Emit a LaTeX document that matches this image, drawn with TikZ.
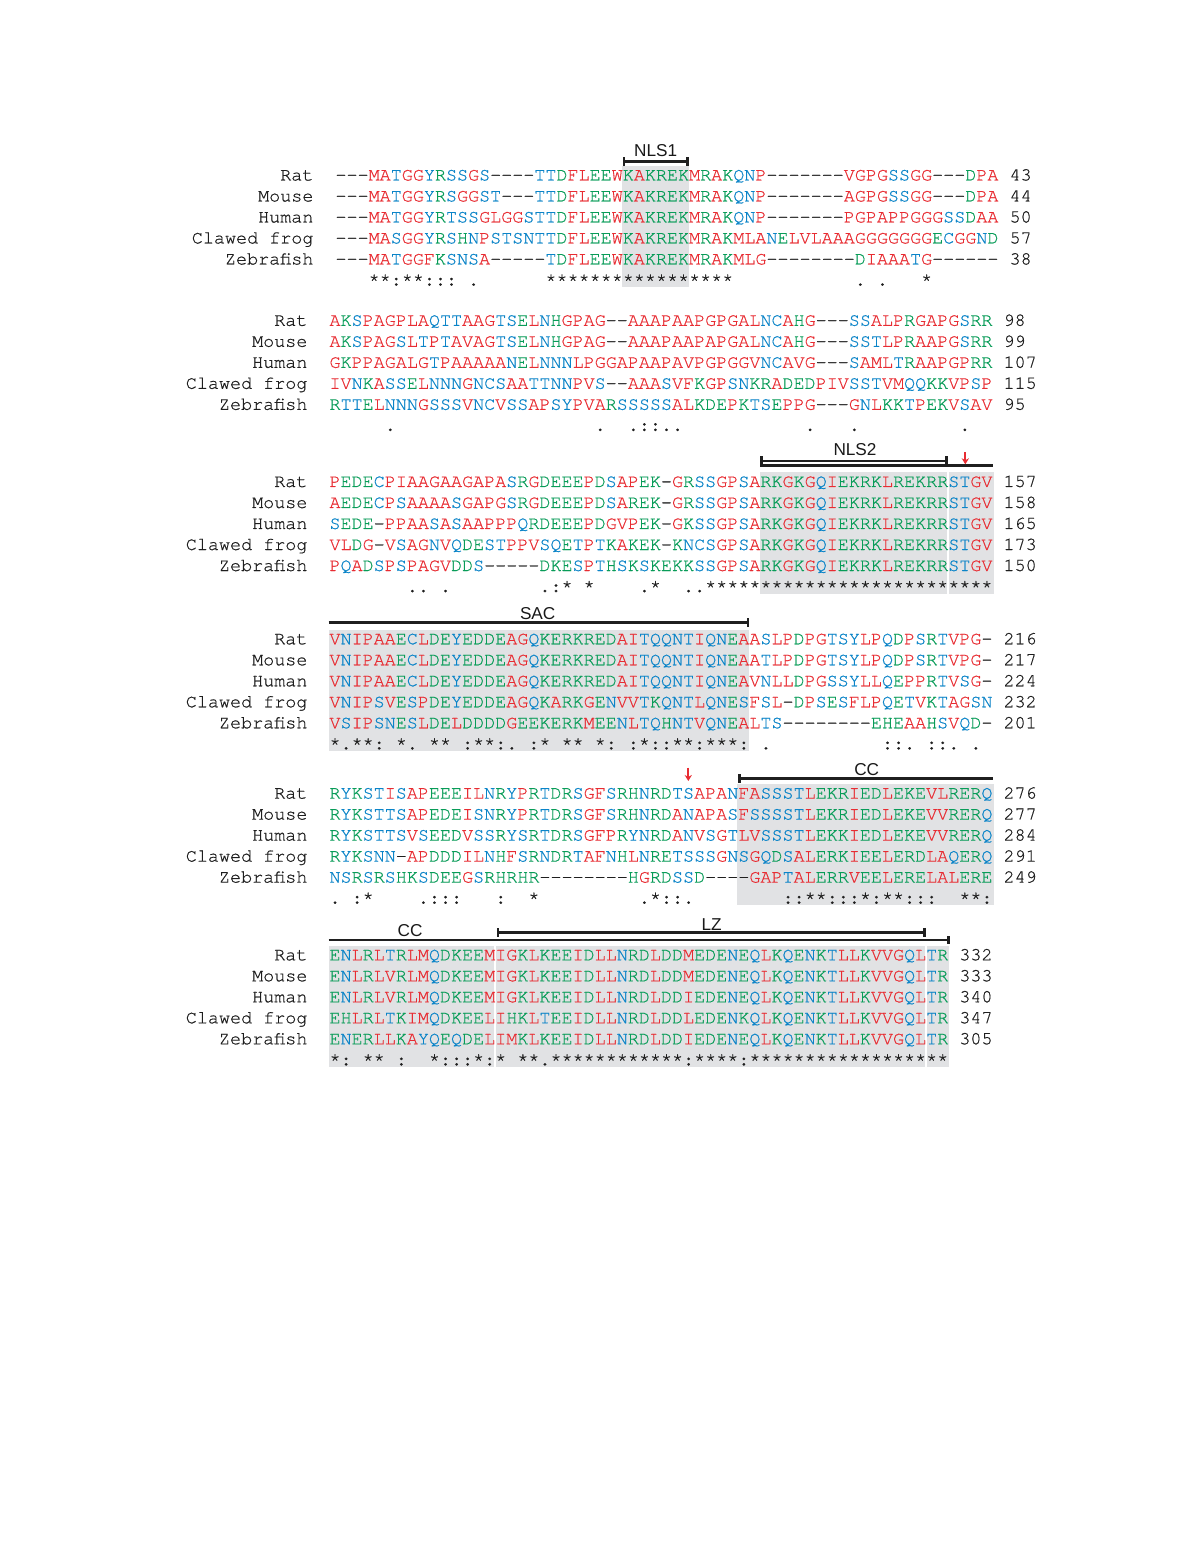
\documentclass[tikz,border=0pt]{standalone}
\usepackage{fontspec}
\setmonofont{TeX Gyre Cursor}[FakeBold=0.6,AutoFakeBold=0.6]
\newfontfamily\labfont{Liberation Sans}
\usetikzlibrary{arrows.meta}
\definecolor{sr}{RGB}{232,44,50}
\definecolor{sb}{RGB}{10,132,200}
\definecolor{sg}{RGB}{8,156,88}
\definecolor{shade}{RGB}{225,226,228}
\definecolor{ink}{RGB}{30,30,30}
\newcommand\setcol[2]{\expandafter\def\csname aac#1\endcsname{#2}}
\setcol A{sr}\setcol V{sr}\setcol F{sr}\setcol P{sr}\setcol M{sr}\setcol I{sr}\setcol L{sr}\setcol W{sr}\setcol G{sr}
\setcol S{sb}\setcol T{sb}\setcol Y{sb}\setcol Q{sb}\setcol N{sb}\setcol C{sb}
\setcol D{sg}\setcol E{sg}\setcol K{sg}\setcol R{sg}\setcol H{sg}
\newcommand\sq[1]{\sqloop#1\relax}
\def\sqloop#1{\ifx\relax#1\else\sqchar{#1}\expandafter\sqloop\fi}
\def\sqchar#1{\ifcsname aac#1\endcsname\textcolor{\csname aac#1\endcsname}{#1}\else\ifx_#1\hphantom{0}\else#1\fi\fi}
\newcommand\cw{11.05}
\newcommand\arow[7]{%
  \node[sqs,anchor=base east] (#1n) at ({#2-2*\cw},#3) {#4};%
  \node[sqs,anchor=base west] (#1s) at (#2,#3) {\sq{#5}};%
  \node[sqs,anchor=base west] (#1c) at ({#2+(#7+1)*\cw},#3) {#6};}
\begin{document}
\begin{tikzpicture}[x=0.5pt,y=-0.5pt,
  sqs/.style={font=\ttfamily\bfseries\fontsize{9.208pt}{11pt}\selectfont, inner sep=0pt, outer sep=0pt, text=ink},
  lab/.style={font=\labfont\fontsize{8.6pt}{10pt}\selectfont, inner sep=0pt, outer sep=0pt, text=black!90, anchor=base},
  br/.style={line width=1.25pt, draw=black!88},
  redarrow/.style={draw=sr, line width=1pt, -{Stealth[length=3pt,width=3.6pt]}},
  sh/.style={fill=shade}]
\useasboundingbox[fill=white] (0,0) rectangle (1192,1566);

% shading
\fill[sh] (621.8,165.7) rectangle (688.6,287.2);
\fill[sh] (759.5,472.2) rectangle (947.3,593.7);
\fill[sh] (949.3,472.2) rectangle (993.5,593.7);
\fill[sh] (328.5,629.5) rectangle (749.4,751);
\fill[sh] (737.4,783.8) rectangle (993.5,905.3);
\fill[sh] (328.5,945.5) rectangle (494.3,1067);
\fill[sh] (496.3,945.5) rectangle (925.2,1067);
\fill[sh] (927.2,945.5) rectangle (949.3,1067);

% block 1
\arow{a1}{335.5}{180.5}{Rat}{---MATGGYRSSGS----TTDFLEEWKAKREKMRAKQNP-------VGPGSSGG---DPA}{43}{60}
\arow{a2}{335.5}{201.5}{Mouse}{---MATGGYRSGGST---TTDFLEEWKAKREKMRAKQNP-------AGPGSSGG---DPA}{44}{60}
\arow{a3}{335.5}{222.5}{Human}{---MATGGYRTSSGLGGSTTDFLEEWKAKREKMRAKQNP-------PGPAPPGGGSSDAA}{50}{60}
\arow{a4}{335.5}{243.5}{Clawed frog}{---MASGGYRSHNPSTSNTTDFLEEWKAKREKMRAKMLANELVLAAAGGGGGGGECGGND}{57}{60}
\arow{a5}{335.5}{264.5}{Zebrafish}{---MATGGFKSNSA-----TDFLEEWKAKREKMRAKMLG--------DIAAATG------}{38}{60}
\node[sqs,anchor=base west] (a6) at (335.5,285.5) {\sq{___**:**:::_.______*****************___________._.___*}};

% block 2
\arow{b1}{329.5}{325.8}{Rat}{AKSPAGPLAQTTAAGTSELNHGPAG--AAAPAAPGPGALNCAHG---SSALPRGAPGSRR}{98}{60}
\arow{b2}{329.5}{346.8}{Mouse}{AKSPAGSLTPTAVAGTSELNHGPAG--AAAPAAPAPGALNCAHG---SSTLPRAAPGSRR}{99}{60}
\arow{b3}{329.5}{367.8}{Human}{GKPPAGALGTPAAAAANELNNNLPGGAPAAPAVPGPGGVNCAVG---SAMLTRAAPGPRR}{107}{60}
\arow{b4}{329.5}{388.8}{Clawed frog}{IVNKASSELNNNGNCSAATTNNPVS--AAASVFKGPSNKRADEDPIVSSTVMQQKKVPSP}{115}{60}
\arow{b5}{329.5}{409.8}{Zebrafish}{RTTELNNNGSSSVNCVSSAPSYPVARSSSSSALKDEPKTSEPPG---GNLKKTPEKVSAV}{95}{60}
\node[sqs,anchor=base west] (b6) at (329.5,430.8) {\sq{_____.__________________.__.::..___________.___._________.}};

% block 3
\arow{c1}{329.5}{487}{Rat}{PEDECPIAAGAAGAPASRGDEEEPDSAPEK-GRSSGPSARKGKGQIEKRKLREKRRSTGV}{157}{60}
\arow{c2}{329.5}{508}{Mouse}{AEDECPSAAAASGAPGSRGDEEEPDSAREK-GRSSGPSARKGKGQIEKRKLREKRRSTGV}{158}{60}
\arow{c3}{329.5}{529}{Human}{SEDE-PPAASASAAPPPQRDEEEPDGVPEK-GKSSGPSARKGKGQIEKRKLREKRRSTGV}{165}{60}
\arow{c4}{329.5}{550}{Clawed frog}{VLDG-VSAGNVQDESTPPVSQETPTKAKEK-KNCSGPSARKGKGQIEKRKLREKRRSTGV}{173}{60}
\arow{c5}{329.5}{571}{Zebrafish}{PQADSPSPAGVDDS-----DKESPTHSKSKEKKSSGPSARKGKGQIEKRKLREKRRSTGV}{150}{60}
\node[sqs,anchor=base west] (c6) at (329.5,592) {\sq{_______.._.________.:*_*____.*__..**************************}};

% block 4
\arow{d1}{329.5}{644.3}{Rat}{VNIPAAECLDEYEDDEAGQKERKREDAITQQNTIQNEAASLPDPGTSYLPQDPSRTVPG-}{216}{60}
\arow{d2}{329.5}{665.3}{Mouse}{VNIPAAECLDEYEDDEAGQKERKREDAITQQNTIQNEAATLPDPGTSYLPQDPSRTVPG-}{217}{60}
\arow{d3}{329.5}{686.3}{Human}{VNIPAAECLDEYEDDEAGQKERKREDAITQQNTIQNEAVNLLDPGSSYLLQEPPRTVSG-}{224}{60}
\arow{d4}{329.5}{707.3}{Clawed frog}{VNIPSVESPDEYEDDEAGQKARKGENVVTKQNTLQNESFSL-DPSESFLPQETVKTAGSN}{232}{60}
\arow{d5}{329.5}{728.3}{Zebrafish}{VSIPSNESLDELDDDDGEEKERKMEENLTQHNTVQNEALTS--------EHEAAHSVQD-}{201}{60}
\node[sqs,anchor=base west] (d6) at (329.5,749.3) {\sq{*.**:_*._**_:**:._:*_**_*:_:*::**:***:_.__________::._::._.}};

% block 5
\arow{e1}{329.5}{798.6}{Rat}{RYKSTISAPEEEILNRYPRTDRSGFSRHNRDTSAPANFASSSTLEKRIEDLEKEVLRERQ}{276}{60}
\arow{e2}{329.5}{819.6}{Mouse}{RYKSTTSAPEDEISNRYPRTDRSGFSRHNRDANAPASFSSSSTLEKRIEDLEKEVVRERQ}{277}{60}
\arow{e3}{329.5}{840.6}{Human}{RYKSTTSVSEEDVSSRYSRTDRSGFPRYNRDANVSGTLVSSSTLEKKIEDLEKEVVRERQ}{284}{60}
\arow{e4}{329.5}{861.6}{Clawed frog}{RYKSNN-APDDDILNHFSRNDRTAFNHLNRETSSSGNSGQDSALERKIEELERDLAQERQ}{291}{60}
\arow{e5}{329.5}{882.6}{Zebrafish}{NSRSRSHKSDEEGSRHRHR--------HGRDSSD----GAPTALERRVEELERELALERE}{249}{60}
\node[sqs,anchor=base west] (e6) at (329.5,903.6) {\sq{._:*____.:::___:__*_________.*::.________::**:::*:**:::__**:}};

% block 6
\arow{f1}{329.5}{960.3}{Rat}{ENLRLTRLMQDKEEMIGKLKEEIDLLNRDLDDMEDENEQLKQENKTLLKVVGQLTR}{332}{56}
\arow{f2}{329.5}{981.3}{Mouse}{ENLRLVRLMQDKEEMIGKLKEEIDLLNRDLDDMEDENEQLKQENKTLLKVVGQLTR}{333}{56}
\arow{f3}{329.5}{1002.3}{Human}{ENLRLVRLMQDKEEMIGKLKEEIDLLNRDLDDIEDENEQLKQENKTLLKVVGQLTR}{340}{56}
\arow{f4}{329.5}{1023.3}{Clawed frog}{EHLRLTKIMQDKEELIHKLTEEIDLLNRDLDDLEDENKQLKQENKTLLKVVGQLTR}{347}{56}
\arow{f5}{329.5}{1044.3}{Zebrafish}{ENERLLKAYQEQDELIMKLKEEIDLLNRDLDDIEDENEQLKQENKTLLKVVGQLTR}{305}{56}
\node[sqs,anchor=base west] (f6) at (329.5,1065.3) {\sq{*:_**_:__*:::*:*_**.************:****:******************}};

% domain brackets
\coordinate (nls1a) at (622.8,161.7); \coordinate (nls1b) at (688.6,161.7);
\draw[br,{Bar[width=4.6pt]}-{Bar[width=4.6pt]}] (nls1a) -- (nls1b);
\node[lab] (nls1) at (655.7,156.7) {NLS1};

\coordinate (nls2a) at (760.2,461.2); \coordinate (nls2b) at (947.8,461.2);
\draw[br,{Bar[width=5pt]}-{Bar[width=5pt]}] (nls2a) -- (nls2b);
\coordinate (sac1a) at (760.2,465.3); \coordinate (sac1b) at (993,465.3);
\draw[br] (sac1a) -- (sac1b);
\node[lab] (nls2) at (855,456) {NLS2};
\coordinate (arr1a) at (965.3,452.3); \coordinate (arr1b) at (965.3,464.3);
\draw[redarrow] (arr1a) -- (arr1b);

\coordinate (sac2a) at (328.5,622.7); \coordinate (sac2b) at (749.4,622.7);
\draw[br,-{Bar[width=4.6pt]}] (sac2a) -- (sac2b);
\node[lab] (sac) at (537.7,619.3) {SAC};

\coordinate (cc1a) at (738,778.3); \coordinate (cc1b) at (993,778.3);
\draw[br,{Bar[width=4.6pt]}-] (cc1a) -- (cc1b);
\node[lab] (cc1) at (866.7,775) {CC};
\coordinate (arr2a) at (688.3,767.5); \coordinate (arr2b) at (688.3,781);
\draw[redarrow] (arr2a) -- (arr2b);

\coordinate (cc2a) at (328.5,940.2); \coordinate (cc2b) at (949.5,940.2);
\draw[br,-{Bar[width=4pt]}] (cc2a) -- (cc2b);
\node[lab] (cc2) at (410,936.3) {CC};
\coordinate (lza) at (496.8,932.3); \coordinate (lzb) at (925.7,932.3);
\draw[br,{Bar[width=4.4pt]}-{Bar[width=4.4pt]}] (lza) -- (lzb);
\node[lab] (lz) at (711.7,930) {LZ};
\end{tikzpicture}
\end{document}
